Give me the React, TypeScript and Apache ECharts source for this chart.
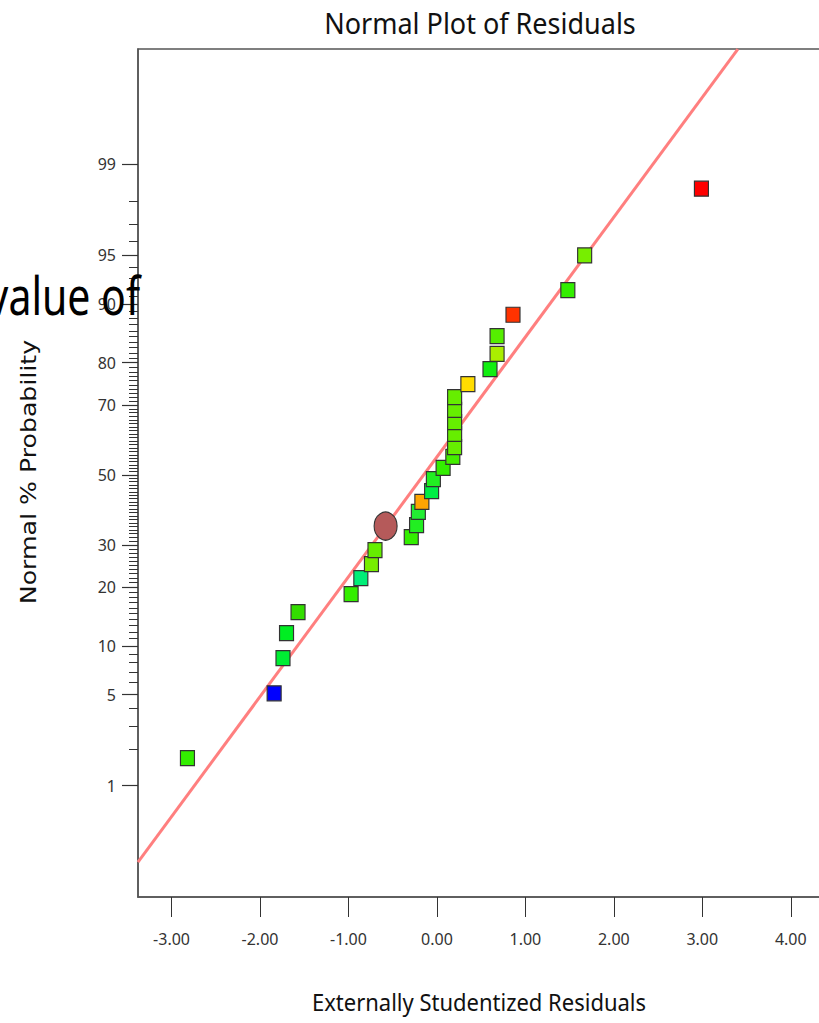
import React, { useEffect, useRef } from "react";
import * as echarts from "echarts";

// Externally studentized residuals (x) and normal % probability (y)
const residuals = [
  -2.82, -1.84, -1.74, -1.70, -1.57, -0.97, -0.86, -0.74, -0.70, -0.29,
  -0.23, -0.21, -0.17, -0.06, -0.04, 0.07, 0.18, 0.20, 0.20, 0.20,
  0.20, 0.20, 0.35, 0.60, 0.68, 0.68, 0.86, 1.48, 1.67, 2.99,
];
const probabilities = [
  1.7, 5.1, 8.5, 11.8, 15.2, 18.6, 22.0, 25.2, 28.7, 32.1,
  35.4, 39.1, 42.0, 45.2, 48.8, 52.1, 55.4, 58.3, 62.1, 65.4,
  68.7, 72.0, 75.2, 78.6, 81.8, 85.1, 88.5, 91.7, 95.0, 98.4,
];
const pointColors = [
  "#33ee00", "#0000ff", "#00ee33", "#00ee22", "#33dd00", "#33ee00", "#00ee77", "#77ee00", "#66ee00", "#33ee00",
  "#22ee22", "#22ee33", "#ffa500", "#00ee44", "#22ee22", "#33ee00", "#44ee00", "#66ee00", "#66ee00", "#66ee00",
  "#66ee00", "#66ee00", "#ffdd00", "#11ee11", "#aaee00", "#55ee00", "#ff3300", "#33ee00", "#77ee00", "#ff0000",
];
// highlighted point (circle)
const circleResidual = [-0.58];
const circleProbability = [35.1];

// fitted normal line end points
const lineResiduals = [-3.379, 3.402];
const lineProbabilities = [0.187, 99.929];

// axis ticks
const xTicks = [-3, -2, -1, 0, 1, 2, 3, 4];
const yMajorTicks = [1, 5, 10, 20, 30, 50, 70, 80, 90, 95, 99];
const yMinorTicks = Array.from({ length: 99 }, (_, i) => i + 1);

function probit(p: number): number {
  const a = [-3.969683028665376e1, 2.209460984245205e2, -2.759285104469687e2, 1.38357751867269e2, -3.066479806614716e1, 2.506628277459239];
  const b = [-5.447609879822406e1, 1.615858368580409e2, -1.556989798598866e2, 6.680131188771972e1, -1.328068155288572e1];
  const c = [-7.784894002430293e-3, -3.223964580411365e-1, -2.400758277161838, -2.549732539343734, 4.374664141464968, 2.938163982698783];
  const d = [7.784695709041462e-3, 3.224671290700398e-1, 2.445134137142996, 3.754408661907416];
  const plow = 0.02425;
  const phigh = 1 - plow;
  let q: number, r: number;
  if (p < plow) {
    q = Math.sqrt(-2 * Math.log(p));
    return (((((c[0] * q + c[1]) * q + c[2]) * q + c[3]) * q + c[4]) * q + c[5]) / ((((d[0] * q + d[1]) * q + d[2]) * q + d[3]) * q + 1);
  }
  if (p <= phigh) {
    q = p - 0.5;
    r = q * q;
    return ((((((a[0] * r + a[1]) * r + a[2]) * r + a[3]) * r + a[4]) * r + a[5]) * q) / (((((b[0] * r + b[1]) * r + b[2]) * r + b[3]) * r + b[4]) * r + 1);
  }
  q = Math.sqrt(-2 * Math.log(1 - p));
  return -(((((c[0] * q + c[1]) * q + c[2]) * q + c[3]) * q + c[4]) * q + c[5]) / ((((d[0] * q + d[1]) * q + d[2]) * q + d[3]) * q + 1);
}
const z = (pct: number) => probit(pct / 100);

export default function App() {
  const ref = useRef<HTMLDivElement>(null);
  useEffect(() => {
    if (!ref.current) return;
    const chart = echarts.init(ref.current, undefined, { renderer: "svg" });
    const majorZ = yMajorTicks.map(z);
    const minorZ = yMinorTicks.map(z);
    const yMin = -3.161;
    const yMax = 3.191;
    const font = "'Noto Sans', sans-serif";

    chart.setOption({
      animation: false,
      backgroundColor: "#ffffff",
      grid: {
        left: 138,
        top: 49,
        right: 20,
        bottom: 126,
        show: true,
        borderColor: "#555555",
        borderWidth: 1.5,
        backgroundColor: "transparent",
      },
      xAxis: {
        type: "value",
        min: -3.379,
        max: 4.5,
        splitLine: { show: false },
        axisLine: { show: true, onZero: false, lineStyle: { color: "#555555", width: 1.5 } },
        axisTick: { show: true, customValues: xTicks, length: 20, lineStyle: { color: "#333333", width: 1 } },
        axisLabel: {
          customValues: xTicks,
          margin: 34,
          fontFamily: font,
          fontSize: 16,
          color: "#333333",
          formatter: (v: number) => v.toFixed(2),
        },
      },
      yAxis: [
        {
          type: "value",
          min: yMin,
          max: yMax,
          splitLine: { show: false },
          axisLine: { show: true, onZero: false, lineStyle: { color: "#555555", width: 1.5 } },
          axisTick: { show: true, customValues: majorZ, length: 16, lineStyle: { color: "#333333", width: 1.2 } },
          axisLabel: {
            customValues: majorZ,
            margin: 22,
            fontFamily: font,
            fontSize: 16,
            color: "#333333",
            formatter: (v: number) => {
              let best = 0;
              for (let i = 0; i < majorZ.length; i++) {
                if (Math.abs(majorZ[i] - v) < Math.abs(majorZ[best] - v)) best = i;
              }
              return String(yMajorTicks[best]);
            },
          },
        },
        {
          type: "value",
          min: yMin,
          max: yMax,
          position: "left",
          splitLine: { show: false },
          axisLine: { show: false, onZero: false },
          axisTick: { show: true, customValues: minorZ, length: 9, lineStyle: { color: "#333333", width: 1 } },
          axisLabel: { show: false },
        },
      ],
      series: [
        {
          type: "line",
          data: lineResiduals.map((v, i) => [v, z(lineProbabilities[i])]),
          symbol: "none",
          lineStyle: { color: "#ff7f7f", width: 3 },
          z: 1,
          silent: true,
        },
        {
          type: "scatter",
          symbol: "rect",
          symbolSize: [14, 15],
          data: residuals.map((v, i) => ({
            value: [v, z(probabilities[i])],
            itemStyle: { color: pointColors[i] },
          })),
          itemStyle: { borderColor: "#333333", borderWidth: 1.2, opacity: 1 },
          z: 3,
        },
        {
          type: "scatter",
          symbol: "circle",
          symbolSize: [23, 28],
          data: circleResidual.map((v, i) => [v, z(circleProbability[i])]),
          itemStyle: { color: "#b55a5a", borderColor: "#333333", borderWidth: 1.2, opacity: 1 },
          z: 4,
        },
      ],
      graphic: [
        {
          type: "text",
          x: 480,
          y: 23,
          scaleY: 1.05,
          style: {
            text: "Normal Plot of Residuals",
            font: "27px 'Noto Sans', sans-serif",
            fill: "#111111",
            align: "center",
            verticalAlign: "middle",
          },
        },
        {
          type: "text",
          x: 479,
          y: 1002,
          scaleY: 1.1,
          style: {
            text: "Externally Studentized Residuals",
            font: "22px 'Noto Sans', sans-serif",
            fill: "#111111",
            align: "center",
            verticalAlign: "middle",
          },
        },
        {
          type: "text",
          x: 28,
          y: 472,
          rotation: Math.PI / 2,
          scaleX: 1.2,
          style: {
            text: "Normal % Probability",
            font: "21px 'DejaVu Sans', sans-serif",
            fill: "#111111",
            align: "center",
            verticalAlign: "middle",
          },
        },
        {
          type: "text",
          x: 140,
          y: 295,
          scaleY: 1.28,
          z: 100,
          style: {
            text: "value of",
            font: "41px 'Noto Sans', sans-serif",
            fill: "#000000",
            align: "right",
            verticalAlign: "middle",
          },
        },
      ],
    });
    return () => chart.dispose();
  }, []);
  return (
    <div style={{ position: "absolute", left: 0, top: 0, width: 819, height: 1023, overflow: "hidden" }}>
      <div ref={ref} style={{ width: 855, height: 1023 }} />
    </div>
  );
}
